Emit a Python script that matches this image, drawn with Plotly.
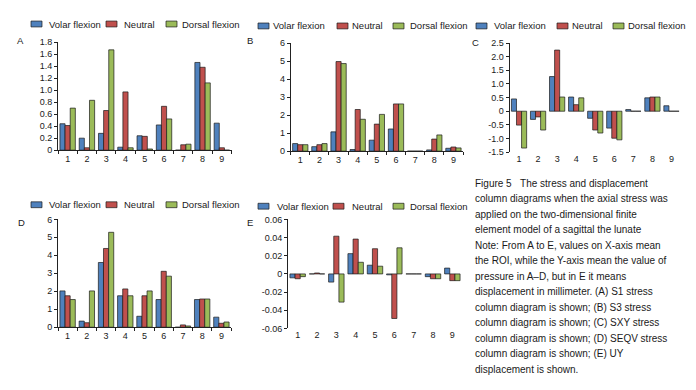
import plotly.graph_objects as go

W, H = 696, 390

categories = ["1", "2", "3", "4", "5", "6", "7", "8", "9"]
series_names = ["Volar flexion", "Neutral", "Dorsal flexion"]
colors = ["#4F81BD", "#C0504D", "#9BBB59"]

# Panel A: S1 stress
a_volar = [0.44, 0.20, 0.28, 0.05, 0.24, 0.42, 0.00, 1.46, 0.45]
a_neutral = [0.41, 0.04, 0.66, 0.97, 0.23, 0.73, 0.09, 1.38, 0.04]
a_dorsal = [0.70, 0.83, 1.67, 0.04, 0.02, 0.52, 0.10, 1.12, 0.00]
# Panel B: S3 stress
b_volar = [0.42, 0.25, 1.07, 0.09, 0.61, 1.23, 0.00, 0.07, 0.16]
b_neutral = [0.36, 0.36, 4.97, 2.31, 1.50, 2.62, 0.00, 0.67, 0.23]
b_dorsal = [0.36, 0.42, 4.86, 1.77, 2.04, 2.62, 0.00, 0.90, 0.18]
# Panel C: SXY stress
c_volar = [0.45, -0.30, 1.27, 0.52, -0.26, -0.62, 0.06, 0.49, 0.20]
c_neutral = [-0.51, -0.21, 2.24, 0.24, -0.69, -0.99, 0.00, 0.52, 0.00]
c_dorsal = [-1.35, -0.69, 0.52, 0.49, -0.80, -1.05, 0.00, 0.52, 0.00]
# Panel D: SEQV stress
d_volar = [2.02, 0.34, 3.60, 1.75, 0.61, 1.54, 0.00, 1.54, 0.56]
d_neutral = [1.75, 0.25, 4.38, 2.13, 1.75, 3.11, 0.13, 1.57, 0.22]
d_dorsal = [1.54, 2.02, 5.28, 1.75, 2.02, 2.84, 0.07, 1.57, 0.29]
# Panel E: UY displacement
e_volar = [-0.0043, 0.0, -0.0090, 0.0223, 0.0096, -0.0010, 0.0, -0.0030, 0.0064]
e_neutral = [-0.0053, 0.0010, 0.0415, 0.0383, 0.0277, -0.0490, 0.0, -0.0053, -0.0074]
e_dorsal = [-0.0030, 0.0, -0.0310, 0.0128, 0.0085, 0.0287, 0.0, -0.0053, -0.0074]

a_ticks = [0, 0.2, 0.4, 0.6, 0.8, 1.0, 1.2, 1.4, 1.6, 1.8]
a_ticktext = ["0", "0.2", "0.4", "0.6", "0.8", "1.0", "1.2", "1.4", "1.6", "1.8"]
bd_ticks = [0, 1, 2, 3, 4, 5, 6]
bd_ticktext = ["0", "1", "2", "3", "4", "5", "6"]
c_ticks = [-1.5, -1.0, -0.5, 0, 0.5, 1.0, 1.5, 2.0, 2.5]
c_ticktext = ["-1.5", "-1.0", "-0.5", "0", "0.5", "1.0", "1.5", "2.0", "2.5"]
e_ticks = [-0.06, -0.04, -0.02, 0, 0.02, 0.04, 0.06]
e_ticktext = ["-0.06", "-0.04", "-0.02", "0", "0.02", "0.04", "0.06"]

panel_letters = ["A", "B", "C", "D", "E"]

caption_lines = [
    "Figure 5\u00a0\u00a0\u00a0The stress and displacement",
    "column diagrams when the axial stress was",
    "applied on the two-dimensional finite",
    "element model of a sagittal the lunate",
    "Note: From A to E, values on X-axis mean",
    "the ROI, while the Y-axis mean the value of",
    "pressure in A\u2013D, but in E it means",
    "displacement in millimeter. (A) S1 stress",
    "column diagram is shown; (B) S3 stress",
    "column diagram is shown; (C) SXY stress",
    "column diagram is shown; (D) SEQV stress",
    "column diagram is shown; (E) UY",
    "displacement is shown.",
]

FONT = "Arial, Liberation Sans, sans-serif"
TXT = "#1a1a1a"
LINE = "#222222"

def px_x(v):
    return v / W

def px_y(v):
    return 1 - v / H

# panel layout in pixels: (x0, x1, ytop, ybottom)
panels = [
    dict(x=(58, 231.5), y=(38, 149), rng=(0, 1.8), ticks=a_ticks, text=a_ticktext,
         data=(a_volar, a_neutral, a_dorsal), zero_axis=False,
         leg_boxes=(31, 106, 166), leg_texts=(47, 122, 180), leg_y=19.5, letter=(20, 36)),
    dict(x=(290.7, 463), y=(39, 150), rng=(0, 6), ticks=bd_ticks, text=bd_ticktext,
         data=(b_volar, b_neutral, b_dorsal), zero_axis=False,
         leg_boxes=(258, 337, 393), leg_texts=(271, 350, 408), leg_y=21.5, letter=(250, 36)),
    dict(x=(509.5, 681), y=(39, 151), rng=(-1.5, 2.5), ticks=c_ticks, text=c_ticktext,
         data=(c_volar, c_neutral, c_dorsal), zero_axis=True,
         leg_boxes=(476, 557, 613), leg_texts=(492, 570, 626), leg_y=21.5, letter=(475, 38)),
    dict(x=(58, 231), y=(220, 330.7), rng=(0, 6), ticks=bd_ticks, text=bd_ticktext,
         data=(d_volar, d_neutral, d_dorsal), zero_axis=False,
         leg_boxes=(31, 106, 166), leg_texts=(47, 122, 180), leg_y=205, letter=(21, 223)),
    dict(x=(288, 462), y=(220, 332), rng=(-0.06, 0.06), ticks=e_ticks, text=e_ticktext,
         data=(e_volar, e_neutral, e_dorsal), zero_axis=True,
         leg_boxes=(258, 333, 393), leg_texts=(275, 350, 408), leg_y=206.5, letter=(250, 223)),
]

fig = go.Figure()
layout = dict(
    width=W, height=H,
    margin=dict(l=0, r=0, t=0, b=0),
    paper_bgcolor="white", plot_bgcolor="white",
    barmode="group", bargap=0.2, bargroupgap=0.0,
    showlegend=False,
    font=dict(family=FONT, size=9, color=TXT),
)
shapes = []
annotations = []
extra_axis = 6

for i, p in enumerate(panels):
    n = i + 1
    xa = "x" if n == 1 else f"x{n}"
    ya = "y" if n == 1 else f"y{n}"
    xkey = "xaxis" if n == 1 else f"xaxis{n}"
    ykey = "yaxis" if n == 1 else f"yaxis{n}"
    xdom = [px_x(p["x"][0]), px_x(p["x"][1])]
    ydom = [px_y(p["y"][1]), px_y(p["y"][0])]
    for vals, name, col in zip(p["data"], series_names, colors):
        fig.add_trace(go.Bar(
            x=categories, y=vals, name=name, xaxis=xa, yaxis=ya,
            marker=dict(color=col, line=dict(color="#1a1a1a", width=0.7)),
            showlegend=False,
        ))
    layout[xkey] = dict(
        domain=xdom, anchor=ya, type="category", range=[-0.5, 8.5],
        showgrid=False, zeroline=False,
        showline=not p["zero_axis"], linecolor=LINE, linewidth=1,
        ticks="" if p["zero_axis"] else "outside", tickson="boundaries",
        ticklen=3, tickcolor=LINE, tickwidth=1,
        tickfont=dict(size=9, color=TXT, family=FONT),
    )
    layout[ykey] = dict(
        domain=ydom, anchor=xa, range=list(p["rng"]),
        showgrid=False, zeroline=False,
        showline=True, linecolor=LINE, linewidth=1,
        ticks="outside", ticklen=3, tickcolor=LINE, tickwidth=1,
        tickmode="array", tickvals=p["ticks"], ticktext=p["text"],
        tickfont=dict(size=9, color=TXT, family=FONT),
    )
    if p["zero_axis"]:
        lo, hi = p["rng"]
        zero_pos = ydom[0] + (0 - lo) / (hi - lo) * (ydom[1] - ydom[0])
        layout[f"xaxis{extra_axis}"] = dict(
            overlaying=xa, anchor="free", position=zero_pos,
            range=[0.5, 9.5], showgrid=False, zeroline=False,
            showline=True, linecolor=LINE, linewidth=1,
            ticks="outside", ticklen=3, tickcolor=LINE, tickwidth=1,
            tickmode="array", tickvals=[k + 0.5 for k in range(10)],
            showticklabels=False,
        )
        extra_axis += 1
    # legend row (drawn as swatches + text)
    for bx, tx, name, col in zip(p["leg_boxes"], p["leg_texts"], series_names, colors):
        shapes.append(dict(
            type="rect", xref="paper", yref="paper",
            x0=px_x(bx), x1=px_x(bx + 11),
            y0=px_y(p["leg_y"] + 3), y1=px_y(p["leg_y"] - 3),
            fillcolor=col, line=dict(color="#1a1a1a", width=0.7),
        ))
        annotations.append(dict(
            x=px_x(tx), y=px_y(p["leg_y"]), xref="paper", yref="paper",
            text=name, showarrow=False, xanchor="left", yanchor="middle",
            font=dict(size=9.5, color=TXT, family=FONT),
        ))
    annotations.append(dict(
        x=px_x(p["letter"][0]), y=px_y(p["letter"][1]), xref="paper", yref="paper",
        text=panel_letters[i], showarrow=False, xanchor="center", yanchor="middle",
        font=dict(size=9.5, color=TXT, family=FONT),
    ))

for k, line in enumerate(caption_lines):
    annotations.append(dict(
        x=px_x(473), y=px_y(182.7 + k * 15.94), xref="paper", yref="paper",
        text=line, showarrow=False, xanchor="left", yanchor="middle",
        font=dict(size=10, color=TXT, family=FONT),
    ))

layout["shapes"] = shapes
layout["annotations"] = annotations
fig.update_layout(**layout)
fig.write_html(
    "out.html",
    config={"displayModeBar": False},
    post_script="document.body.style.margin='0';document.body.style.padding='0';",
)
